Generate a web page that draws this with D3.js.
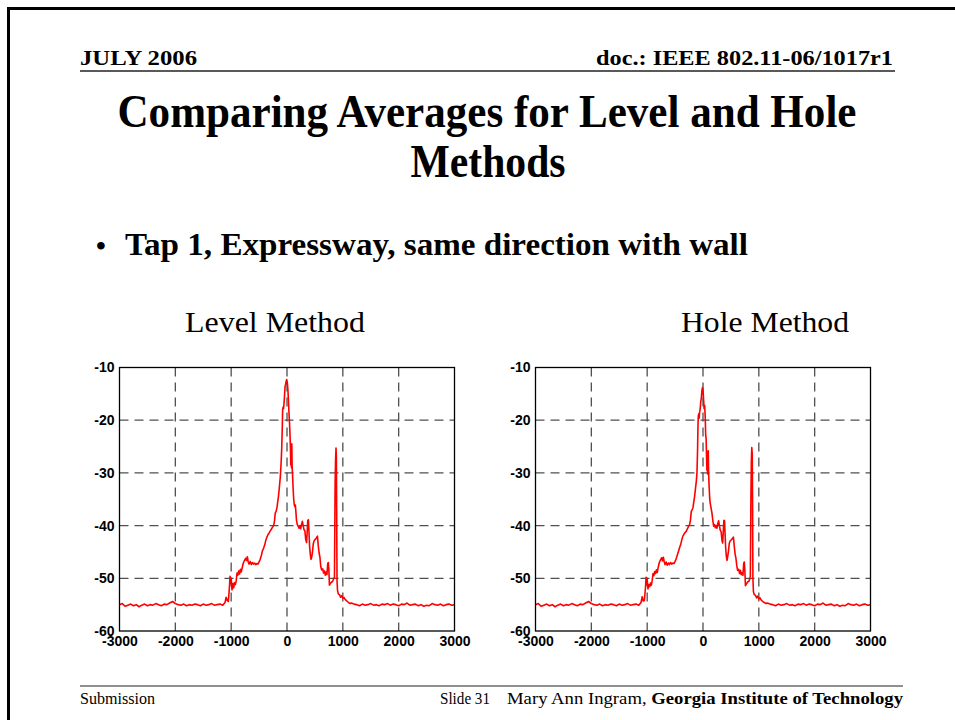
<!DOCTYPE html>
<html>
<head>
<meta charset="utf-8">
<script src="https://cdn.jsdelivr.net/npm/d3@7"></script>
<style>
  body { margin: 0; background: #fff; overflow: hidden; }
  svg { display: block; }
</style>
</head>
<body>
<svg width="955" height="720"></svg>
<script>
// axis ticks and grid
const xTicks = [-3000, -2000, -1000, 0, 1000, 2000, 3000];
const yTicks = [-10, -20, -30, -40, -50, -60];
const xGrid = [-2000, -1000, 0, 1000, 2000];
const yGrid = [-20, -30, -40, -50];

// left / right noise floor (same for both panels)
const floorLeft = [
    [-3000, -55.0], [-2950, -54.8], [-2900, -55.3], [-2850, -55.1], [-2800, -54.9], [-2750, -55.2],
    [-2700, -55.0], [-2650, -55.4], [-2600, -55.1], [-2550, -54.9], [-2500, -55.2], [-2450, -55.0],
    [-2400, -55.1], [-2350, -54.8], [-2300, -55.0], [-2250, -55.2], [-2200, -54.9], [-2150, -55.0],
    [-2100, -54.7], [-2050, -54.4], [-2000, -54.8], [-1950, -55.0], [-1900, -55.1], [-1850, -54.9],
    [-1800, -55.2], [-1750, -55.0], [-1700, -55.1], [-1650, -54.9], [-1600, -55.0], [-1550, -55.2],
    [-1500, -54.9], [-1450, -55.1], [-1400, -55.0], [-1350, -54.8], [-1300, -55.1], [-1250, -55.0],
    [-1200, -54.9], [-1150, -55.1]
];
const floorRight = [
    [1200, -54.9], [1250, -55.0], [1300, -55.2], [1350, -54.9], [1400, -55.1], [1450, -55.0],
    [1500, -54.8], [1550, -55.1], [1600, -55.0], [1650, -55.2], [1700, -54.9], [1750, -55.0],
    [1800, -54.8], [1850, -55.1], [1900, -54.9], [1950, -55.0], [2000, -55.2], [2050, -54.9],
    [2100, -55.0], [2150, -54.7], [2200, -55.1], [2250, -55.0], [2300, -54.9], [2350, -55.2],
    [2400, -55.0], [2450, -55.3], [2500, -55.1], [2550, -55.2], [2600, -54.8], [2650, -55.0],
    [2700, -55.1], [2750, -54.9], [2800, -55.2], [2850, -55.0], [2900, -54.9], [2950, -55.1],
    [3000, -55.0]
];

// Level method, the part above the floor
const levelCore = [
    [-1110, -54.6], [-1090, -53.6], [-1070, -54.2], [-1050, -54.4], [-1030, -51.5], [-1020, -49.6],
    [-1010, -51.0], [-1000, -50.0], [-985, -52.2], [-970, -51.0], [-955, -51.8], [-940, -50.8],
    [-925, -51.2], [-910, -50.5], [-895, -49.0], [-880, -49.4], [-865, -48.6], [-850, -49.2],
    [-835, -48.3], [-820, -48.8], [-800, -47.9], [-785, -47.2], [-770, -46.8], [-755, -46.5],
    [-740, -46.2], [-725, -46.6], [-710, -45.9], [-695, -46.9], [-680, -47.3], [-660, -46.8],
    [-640, -47.4], [-620, -47.0], [-600, -47.3], [-580, -47.1], [-560, -47.4], [-540, -47.2],
    [-520, -47.3], [-500, -46.9], [-480, -46.4], [-460, -45.7], [-440, -44.8], [-420, -44.3],
    [-400, -43.7], [-380, -42.8], [-360, -42.2], [-340, -41.7], [-320, -41.4], [-300, -41.0],
    [-280, -40.7], [-260, -40.3], [-240, -40.0], [-225, -39.2], [-210, -37.6], [-195, -37.3],
    [-180, -36.6], [-165, -35.4], [-150, -34.2], [-135, -32.5], [-120, -30.8], [-105, -28.0],
    [-95, -25.5], [-85, -21.5], [-78, -18.0], [-70, -17.5], [-62, -17.8], [-55, -17.0],
    [-45, -15.5], [-35, -13.6], [-25, -13.2], [-15, -12.6], [-5, -12.3], [5, -12.8],
    [15, -14.0], [25, -16.0], [35, -18.5], [45, -20.5], [55, -23.0], [62, -25.5],
    [68, -28.5], [74, -24.8], [80, -29.0], [86, -24.5], [92, -28.8], [100, -30.5],
    [110, -33.0], [120, -35.0], [130, -36.0], [140, -36.4], [150, -36.1], [160, -37.5],
    [170, -39.0], [185, -39.8], [200, -40.1], [215, -40.5], [230, -40.0], [245, -40.6],
    [260, -39.8], [275, -39.2], [290, -40.0], [305, -40.8], [320, -41.0], [335, -42.6],
    [350, -43.2], [360, -41.5], [372, -39.0], [384, -38.9], [395, -41.5], [405, -44.0],
    [418, -45.5], [430, -46.4], [442, -46.0], [455, -45.2], [470, -43.5], [485, -42.9],
    [500, -42.7], [515, -42.5], [530, -42.3], [545, -42.0], [560, -43.8], [575, -45.2],
    [590, -46.0], [605, -47.8], [620, -48.4], [640, -48.2], [655, -49.0], [670, -48.6],
    [685, -49.4], [700, -48.8], [715, -49.3], [730, -47.2], [740, -47.0], [750, -48.5],
    [760, -51.3], [775, -51.0], [790, -50.8], [805, -50.7], [820, -50.5], [835, -50.1],
    [850, -49.8], [862, -32.0], [870, -27.5], [878, -25.3], [884, -27.0], [890, -38.0],
    [896, -50.5], [905, -52.3], [920, -53.0], [940, -53.1], [960, -53.6], [980, -53.3],
    [1000, -53.8], [1020, -53.6], [1040, -54.0], [1060, -54.2], [1080, -54.4], [1100, -54.6],
    [1130, -54.8], [1150, -54.7]
];

// Hole method, the part above the floor
const holeCore = [
    [-1110, -54.6], [-1090, -53.5], [-1070, -54.3], [-1050, -54.2], [-1030, -51.8], [-1020, -49.8],
    [-1010, -51.2], [-1000, -50.2], [-985, -52.0], [-970, -51.2], [-955, -51.6], [-940, -50.9],
    [-925, -51.3], [-910, -50.4], [-895, -49.1], [-880, -49.5], [-865, -48.7], [-850, -49.1],
    [-835, -48.4], [-820, -48.9], [-800, -47.8], [-785, -47.1], [-770, -46.7], [-755, -46.4],
    [-740, -46.1], [-725, -46.7], [-710, -46.0], [-695, -46.8], [-680, -47.4], [-660, -46.9],
    [-640, -47.5], [-620, -47.1], [-600, -47.4], [-580, -47.0], [-560, -47.3], [-540, -47.1],
    [-520, -47.2], [-500, -46.8], [-480, -46.3], [-460, -45.6], [-440, -44.9], [-420, -44.2],
    [-400, -43.6], [-380, -42.7], [-360, -42.0], [-340, -41.6], [-320, -41.3], [-300, -41.1],
    [-280, -40.6], [-260, -40.2], [-240, -39.8], [-225, -39.0], [-210, -37.3], [-195, -37.0],
    [-180, -36.6], [-165, -35.5], [-150, -34.4], [-135, -33.0], [-120, -31.6], [-108, -30.0],
    [-98, -26.0], [-90, -21.0], [-84, -19.2], [-76, -18.8], [-68, -19.6], [-60, -18.4],
    [-50, -17.8], [-40, -16.5], [-30, -15.8], [-20, -14.4], [-10, -13.8], [0, -14.2],
    [10, -16.0], [20, -17.8], [30, -17.2], [40, -19.5], [48, -22.8], [56, -23.5],
    [64, -27.0], [70, -29.5], [76, -27.5], [82, -30.2], [88, -26.0], [94, -25.8],
    [100, -29.8], [110, -32.6], [120, -34.8], [130, -35.8], [145, -36.7], [160, -37.6],
    [175, -38.9], [190, -40.1], [205, -39.8], [220, -40.4], [235, -40.0], [250, -40.5],
    [265, -39.6], [280, -39.1], [295, -40.1], [310, -40.9], [325, -41.2], [340, -42.8],
    [352, -43.3], [362, -41.4], [374, -39.0], [386, -39.1], [396, -41.7], [406, -44.2],
    [418, -45.8], [430, -46.6], [442, -45.9], [455, -45.0], [470, -43.4], [485, -42.9],
    [500, -42.8], [515, -42.6], [530, -42.4], [545, -42.2], [560, -43.9], [575, -45.4],
    [590, -46.2], [605, -47.6], [620, -48.5], [640, -48.3], [655, -49.1], [670, -48.5],
    [685, -49.3], [700, -48.9], [715, -49.4], [730, -47.1], [740, -46.9], [750, -48.6],
    [760, -51.4], [775, -51.1], [790, -50.9], [805, -50.6], [820, -50.6], [835, -50.2],
    [848, -49.6], [858, -35.0], [866, -27.8], [874, -25.2], [882, -26.5], [888, -36.0],
    [894, -50.0], [903, -52.5], [918, -53.1], [938, -53.2], [958, -53.7], [978, -53.4],
    [1000, -53.9], [1020, -53.7], [1040, -54.1], [1060, -54.3], [1080, -54.5], [1100, -54.6],
    [1130, -54.8], [1150, -54.7]
];

const levelMethod = floorLeft.concat(levelCore, floorRight);
const holeMethod = floorLeft.concat(holeCore, floorRight);

const svg = d3.select("svg");
const serif = "'Liberation Serif', 'Times New Roman', serif";
const sans = "'Liberation Sans', Arial, sans-serif";

// slide frame (only top and left edges are inside the picture)
svg.append("rect")
    .attr("x", 8.5).attr("y", 8.5)
    .attr("width", 980).attr("height", 740)
    .attr("fill", "none")
    .attr("stroke", "#000")
    .attr("stroke-width", 3);

function addText(txt, x, y, size, weight, anchor, len) {
    let t = svg.append("text")
        .attr("x", x).attr("y", y)
        .attr("font-family", serif)
        .attr("font-size", size)
        .attr("font-weight", weight)
        .attr("text-anchor", anchor)
        .text(txt);
    if (len) t.attr("textLength", len).attr("lengthAdjust", "spacingAndGlyphs");
    return t;
}

// header
addText("JULY 2006", 80, 65, 22, "bold", "start", 117);
addText("doc.: IEEE 802.11-06/1017r1", 893, 65, 22, "bold", "end", 297);
svg.append("line")
    .attr("x1", 80).attr("x2", 895)
    .attr("y1", 71).attr("y2", 71)
    .attr("stroke", "#222").attr("stroke-width", 1.5);

// title
addText("Comparing Averages for Level and Hole", 487, 127, 46, "bold", "middle", 739);
addText("Methods", 488, 177, 46, "bold", "middle", 155);

// bullet
addText("\u2022", 96, 255, 28, "bold", "start");
addText("Tap 1, Expressway, same direction with wall", 125, 255, 31, "bold", "start", 623);

// panel captions
addText("Level Method", 275, 332, 29, "normal", "middle", 180);
addText("Hole Method", 765, 332, 29, "normal", "middle", 168);

function drawPanel(data, left, top, width, height) {
    const x = d3.scaleLinear().domain([-3000, 3000]).range([left, left + width]);
    const y = d3.scaleLinear().domain([-60, -10]).range([top + height, top]);
    const g = svg.append("g");

    g.selectAll(".gx").data(xGrid).enter().append("line")
        .attr("x1", d => x(d)).attr("x2", d => x(d))
        .attr("y1", top).attr("y2", top + height)
        .attr("stroke", "#505050").attr("stroke-width", 1.3)
        .attr("stroke-dasharray", "9,6");
    g.selectAll(".gy").data(yGrid).enter().append("line")
        .attr("x1", left).attr("x2", left + width)
        .attr("y1", d => y(d)).attr("y2", d => y(d))
        .attr("stroke", "#505050").attr("stroke-width", 1.3)
        .attr("stroke-dasharray", "9,6");

    const line = d3.line().x(d => x(d[0])).y(d => y(d[1]));
    g.append("path")
        .datum(data)
        .attr("fill", "none")
        .attr("stroke", "#ff0000")
        .attr("stroke-width", 1.6)
        .attr("stroke-linejoin", "round")
        .attr("d", line);

    g.append("rect")
        .attr("x", left).attr("y", top)
        .attr("width", width).attr("height", height)
        .attr("fill", "none").attr("stroke", "#000").attr("stroke-width", 1.3);

    // plain hyphen minus signs and no thousands separator, as in the slide
    const fmt = d => String(d);
    const axisX = d3.axisBottom(x).tickValues(xTicks).tickFormat(fmt).tickSize(0).tickPadding(5);
    const axisY = d3.axisLeft(y).tickValues(yTicks).tickFormat(fmt).tickSize(0).tickPadding(5);

    const gx = g.append("g").attr("transform", `translate(0,${top + height})`).call(axisX);
    const gy = g.append("g").attr("transform", `translate(${left},0)`).call(axisY);
    [gx, gy].forEach(a => {
        a.select(".domain").remove();
        a.selectAll("text")
            .attr("font-family", sans)
            .attr("font-size", 14)
            .attr("font-weight", "bold")
            .attr("fill", "#000");
    });
}

drawPanel(levelMethod, 119.5, 367.5, 335, 263.5);
drawPanel(holeMethod, 535.5, 367.5, 335, 263.5);

// footer
svg.append("line")
    .attr("x1", 80).attr("x2", 903)
    .attr("y1", 686).attr("y2", 686)
    .attr("stroke", "#222").attr("stroke-width", 1.2);
addText("Submission", 80, 704, 16, "normal", "start", 75);
addText("Slide 31", 440, 704, 16, "normal", "start", 50);
let credit = addText("Mary Ann Ingram, ", 507, 704, 17, "normal", "start", 396);
credit.append("tspan").attr("font-weight", "bold").text("Georgia Institute of Technology");
</script>
</body>
</html>
